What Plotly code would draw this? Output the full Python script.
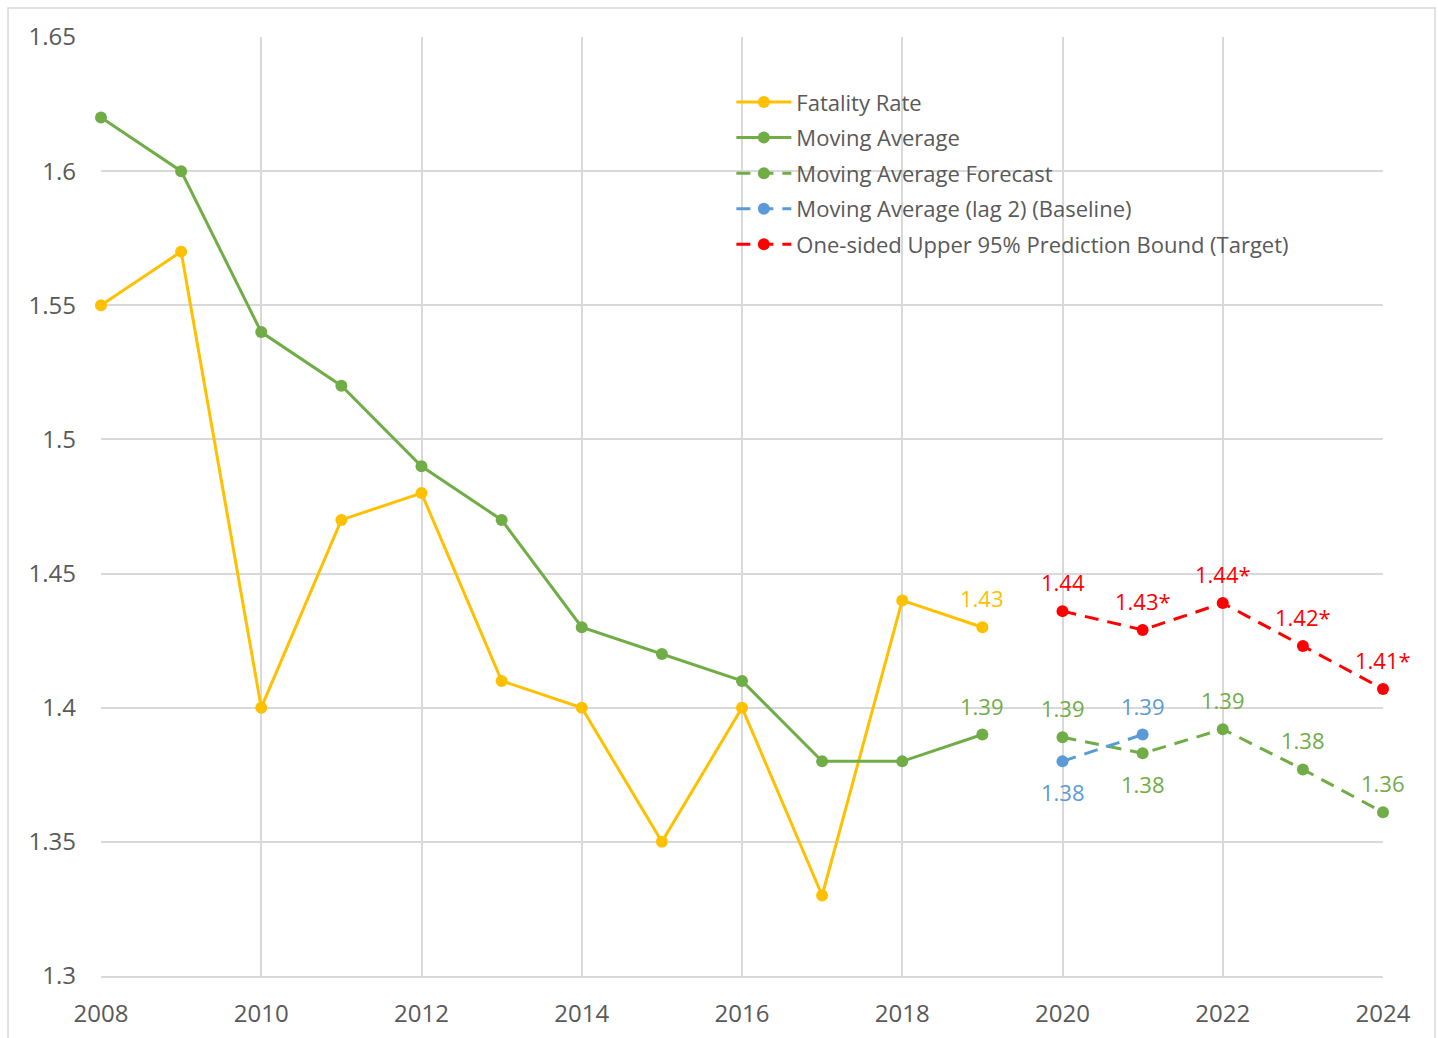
import plotly.graph_objects as go

years_hist = [2008, 2009, 2010, 2011, 2012, 2013, 2014, 2015, 2016, 2017, 2018, 2019]
fatality_rate = [1.55, 1.57, 1.40, 1.47, 1.48, 1.41, 1.40, 1.35, 1.40, 1.33, 1.44, 1.43]
moving_average = [1.62, 1.60, 1.54, 1.52, 1.49, 1.47, 1.43, 1.42, 1.41, 1.38, 1.38, 1.39]

years_fc = [2020, 2021, 2022, 2023, 2024]
ma_forecast = [1.389, 1.383, 1.392, 1.377, 1.361]
ma_forecast_labels = ["1.39", "1.38", "1.39", "1.38", "1.36"]
ma_forecast_label_side = ["above", "below", "above", "above", "above"]

years_base = [2020, 2021]
baseline = [1.380, 1.390]
baseline_labels = ["1.38", "1.39"]
baseline_label_side = ["below", "above"]

target = [1.436, 1.429, 1.439, 1.423, 1.407]
target_labels = ["1.44", "1.43*", "1.44*", "1.42*", "1.41*"]

y_ticks = [1.3, 1.35, 1.4, 1.45, 1.5, 1.55, 1.6, 1.65]
y_tick_text = ["1.3", "1.35", "1.4", "1.45", "1.5", "1.55", "1.6", "1.65"]
x_ticks = [2008, 2010, 2012, 2014, 2016, 2018, 2020, 2022, 2024]

YELLOW = "#FFC000"
GREEN = "#70AD47"
BLUE = "#5B9BD5"
RED = "#FF0000"
FONT = "Open Sans, Liberation Sans, sans-serif"
DASH = "14px,9px"

fig = go.Figure()

def add(x, y, name, color, dash, group):
    fig.add_trace(go.Scatter(
        x=x, y=y, name=name, mode="lines+markers",
        line=dict(color=color, width=3, dash=dash),
        marker=dict(color=color, size=12),
        legendgroup=group, cliponaxis=False,
        hoverinfo="x+y",
    ))

add(years_hist, fatality_rate, "Fatality Rate", YELLOW, "solid", "a")
add(years_hist, moving_average, "Moving Average", GREEN, "solid", "b")
add(years_fc, ma_forecast, "Moving Average Forecast", GREEN, DASH, "c")
add(years_base, baseline, "Moving Average (lag 2) (Baseline)", BLUE, DASH, "d")
add(years_fc, target, "One-sided Upper 95% Prediction Bound (Target)", RED, DASH, "e")

annotations = []

def label(x, y, text, color, side):
    annotations.append(dict(
        x=x, y=y, xref="x", yref="y", text=text, showarrow=False,
        font=dict(family=FONT, size=22, color=color),
        yshift=29 if side == "above" else -31,
        xanchor="center", yanchor="middle",
    ))

label(years_hist[-1], fatality_rate[-1], "1.43", YELLOW, "above")
label(years_hist[-1], moving_average[-1], "1.39", GREEN, "above")
for xv, yv, t, s in zip(years_fc, ma_forecast, ma_forecast_labels, ma_forecast_label_side):
    label(xv, yv, t, GREEN, s)
for xv, yv, t, s in zip(years_base, baseline, baseline_labels, baseline_label_side):
    label(xv, yv, t, BLUE, s)
for xv, yv, t in zip(years_fc, target, target_labels):
    label(xv, yv, t, RED, "above")

fig.update_layout(
    width=1438, height=1038,
    margin=dict(l=101, r=55, t=37, b=62),
    paper_bgcolor="white", plot_bgcolor="white",
    font=dict(family=FONT, size=22, color="#595959"),
    showlegend=True,
    legend=dict(
        x=0.4917, y=0.953, xanchor="left", yanchor="top",
        bgcolor="rgba(0,0,0,0)",
        font=dict(family=FONT, size=22, color="#595959"),
        itemwidth=55, tracegroupgap=4,
        traceorder="grouped",
    ),
    annotations=annotations,
    shapes=[dict(
        type="rect", xref="paper", yref="paper",
        x0=-0.0725, x1=1.0406, y0=-0.08, y1=1.0309,
        line=dict(color="#D9D9D9", width=1.5), fillcolor="rgba(0,0,0,0)",
        layer="below",
    )],
)

fig.update_xaxes(
    range=[2008, 2024], tickvals=x_ticks, ticktext=[str(v) for v in x_ticks],
    showgrid=True, gridcolor="#D9D9D9", gridwidth=1.5,
    showline=True, linecolor="#D9D9D9", linewidth=1.5,
    zeroline=False, ticks="", ticklabelstandoff=15, automargin=False,
    tickfont=dict(family=FONT, size=24, color="#595959"),
)
fig.update_yaxes(
    range=[1.3, 1.65], tickvals=y_ticks, ticktext=y_tick_text,
    showgrid=True, gridcolor="#D9D9D9", gridwidth=1.5,
    showline=False, zeroline=False, ticks="", ticklabelstandoff=24, automargin=False,
    tickfont=dict(family=FONT, size=24, color="#595959"),
)

fig.write_html(
    "out.html",
    config={"displayModeBar": False},
    post_script="document.body.style.margin='0';document.body.style.overflow='hidden';",
)
